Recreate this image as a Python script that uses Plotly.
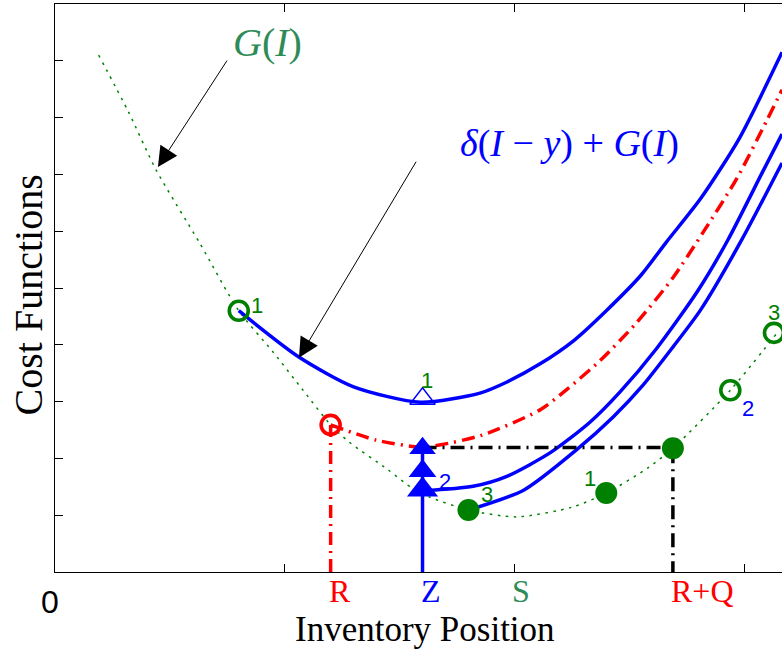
import plotly.graph_objects as go

# ---------------- data (x: inventory position, y: cost) ----------------
G_x = [0.19, 0.32, 0.44, 0.63, 0.80, 0.95, 1.08, 1.20, 1.28, 1.45, 1.56, 1.63,
       1.80, 2.01, 2.25, 2.40, 2.58, 2.69, 2.94, 3.14]
G_y = [9.10, 8.10, 7.08, 5.79, 4.60, 3.87, 3.20, 2.59, 2.29, 1.80, 1.46, 1.32,
       1.09, 0.97, 1.14, 1.39, 1.83, 2.18, 3.20, 4.19]

cost1_x = [0.80, 1.06, 1.30, 1.59, 1.85, 1.97, 2.11, 2.26, 2.40, 2.55, 2.66,
           2.81, 2.98, 3.165]
cost1_y = [4.60, 3.79, 3.26, 2.99, 3.15, 3.35, 3.66, 4.08, 4.60, 5.22, 5.80,
           6.57, 7.64, 9.15]

costR_x = [1.20, 1.40, 1.59, 1.68, 1.86, 2.11, 2.23, 2.37, 2.53, 2.69, 2.82,
           2.97, 3.10, 3.165]
costR_y = [2.59, 2.32, 2.20, 2.24, 2.41, 2.85, 3.22, 3.71, 4.38, 5.18, 5.97,
           6.94, 7.96, 8.49]

cost2_x = [1.60, 1.82, 1.97, 2.16, 2.33, 2.46, 2.62, 2.80, 2.93, 3.08, 3.165]
cost2_y = [1.43, 1.51, 1.69, 2.11, 2.64, 3.17, 3.94, 4.96, 5.85, 7.04, 7.71]

cost3_x = [1.80, 2.04, 2.27, 2.43, 2.56, 2.69, 2.81, 2.99, 3.165]
cost3_y = [1.09, 1.44, 2.15, 2.73, 3.29, 3.96, 4.61, 5.85, 7.20]

R = 1.20
Z = 1.60
S = 2.00
RQ = 2.69
G_R = 2.59          # G(R)
G_RQ = 2.19         # G(R+Q) = min of dashed curve

open_green_x = [0.80, 2.94, 3.13]
open_green_y = [4.60, 3.20, 4.21]
filled_green_x = [1.80, 2.40, 2.69]
filled_green_y = [1.09, 1.39, 2.18]
tri_x = [1.60]
tri_y = [3.05]
arrowheads_y = [2.18, 1.78, 1.45]

num_text = ['1', '1', '2', '3', '1', '2', '3']
num_x = [0.88, 1.62, 1.70, 1.88, 2.33, 3.015, 3.13]
num_y = [4.70, 3.38, 1.59, 1.37, 1.65, 2.87, 4.57]
num_col = ['green', 'green', 'blue', 'green', 'green', 'blue', 'green']

pos_labels = ['R', 'Z', 'S', 'R+Q']
pos_values = [R, Z, S, RQ]
pos_colors = ['red', 'blue', 'seagreen', 'red']

# ---------------- styling ----------------
GREEN = '#008000'
BLUE = '#0000FF'
RED = '#FF0000'
SEAGREEN = '#2E8B57'
COLMAP = {'green': GREEN, 'blue': BLUE, 'red': RED, 'seagreen': SEAGREEN}
SERIF = 'Liberation Serif'
SANS = 'Liberation Sans'

fig = go.Figure()

def line(x, y, color, width, dash='solid', spline=True):
    fig.add_trace(go.Scatter(
        x=x, y=y, mode='lines', hoverinfo='skip',
        line=dict(color=color, width=width, dash=dash,
                  shape='spline' if spline else 'linear', smoothing=0.7)))

# G(I)
line(G_x, G_y, GREEN, 1.5, dash='2.5px,5.5px')
# cost curves
line(costR_x, costR_y, RED, 3.5, dash='13px,6px,2px,6px')
line(cost1_x, cost1_y, BLUE, 3.5)
line(cost2_x, cost2_y, BLUE, 3.5)
line(cost3_x, cost3_y, BLUE, 3.5)
# guide lines
line([R, R], [0, G_R], RED, 3.5, dash='13px,6px,2px,6px', spline=False)
line([Z, RQ, RQ], [G_RQ, G_RQ, 0], 'black', 3.5, dash='14px,6px,2px,6px', spline=False)
line([Z, Z], [0, arrowheads_y[0]], BLUE, 3.5, spline=False)

# markers
fig.add_trace(go.Scatter(x=[Z] * 3, y=arrowheads_y, mode='markers', hoverinfo='skip',
                         marker=dict(symbol='triangle-up', size=[23, 24, 27], color=BLUE,
                                     opacity=1, line=dict(width=0))))
fig.add_trace(go.Scatter(x=tri_x, y=tri_y, mode='markers', hoverinfo='skip',
                         marker=dict(symbol='triangle-up-open', size=22, color=BLUE,
                                     opacity=1, line=dict(width=1.4, color=BLUE))))
fig.add_trace(go.Scatter(x=open_green_x, y=open_green_y, mode='markers', hoverinfo='skip',
                         marker=dict(symbol='circle-open', size=19, color=GREEN,
                                     opacity=1, line=dict(width=3.6, color=GREEN))))
fig.add_trace(go.Scatter(x=[R], y=[G_R], mode='markers', hoverinfo='skip',
                         marker=dict(symbol='circle-open', size=19, color=RED,
                                     opacity=1, line=dict(width=3.6, color=RED))))
fig.add_trace(go.Scatter(x=filled_green_x, y=filled_green_y, mode='markers', hoverinfo='skip',
                         marker=dict(symbol='circle', size=22, color=GREEN,
                                     opacity=1, line=dict(width=0))))

# numeric labels
for t, x, y, c in zip(num_text, num_x, num_y, num_col):
    fig.add_annotation(x=x, y=y, xref='x', yref='y', text=t, showarrow=False,
                       xanchor='center', yanchor='middle',
                       font=dict(family=SANS, size=22, color=COLMAP[c]))

# position labels under the axis
for t, x, c in zip(pos_labels, pos_values, pos_colors):
    fig.add_annotation(x=x, y=-0.0335, xref='x', yref='paper', text=t, showarrow=False,
                       xanchor='left', yanchor='middle', xshift=-3, borderpad=0,
                       font=dict(family=SERIF, size=32, color=COLMAP[c]))

fig.add_annotation(x=0, y=-0.052, xref='x', yref='paper', text='0', showarrow=False,
                   xanchor='center', yanchor='middle', xshift=-5,
                   font=dict(family=SANS, size=32, color='black'))

# axis titles
fig.add_annotation(x=(424.5 - 55) / 727, y=-0.1012, xref='paper', yref='paper',
                   text='Inventory Position', showarrow=False, xanchor='center',
                   yanchor='middle', borderpad=0,
                   font=dict(family=SERIF, size=35, color='black'))
fig.add_annotation(x=-27 / 727, y=0.487, xref='paper', yref='paper',
                   text='Cost Functions', showarrow=False, textangle=-90,
                   xanchor='center', yanchor='middle',
                   font=dict(family=SERIF, size=40, color='black'))

# curve labels with arrows
fig.add_annotation(x=0.925, y=9.33, xref='x', yref='y', text='<i>G</i>(<i>I</i>)',
                   showarrow=False, font=dict(family=SERIF, size=40, color=SEAGREEN))
fig.add_annotation(x=2.24, y=7.55, xref='x', yref='y',
                   text='<i>δ</i>(<i>I</i> − <i>y</i>) + <i>G</i>(<i>I</i>)',
                   showarrow=False, font=dict(family=SERIF, size=38, color=BLUE))
fig.add_annotation(x=0.448, y=7.13, ax=0.753, ay=9.03, xref='x', yref='y',
                   axref='x', ayref='y', text='', showarrow=True, arrowhead=2,
                   arrowsize=4, arrowwidth=1, arrowcolor='black', standoff=0)
fig.add_annotation(x=1.062, y=3.77, ax=1.576, ay=7.25, xref='x', yref='y',
                   axref='x', ayref='y', text='', showarrow=True, arrowhead=2,
                   arrowsize=4, arrowwidth=1, arrowcolor='black', standoff=0)

fig.update_layout(
    width=782, height=650,
    margin=dict(l=55, r=0, t=4, b=78),
    paper_bgcolor='white', plot_bgcolor='white',
    showlegend=False,
    xaxis=dict(range=[0, 3.165], showgrid=False, zeroline=False, showline=True,
               linecolor='black', linewidth=1, mirror='ticks', ticks='inside',
               ticklen=8, tickcolor='black', tickvals=[1, 2, 3], showticklabels=False),
    yaxis=dict(range=[0, 10], showgrid=False, zeroline=False, showline=True,
               linecolor='black', linewidth=1, mirror=False, ticks='inside',
               ticklen=8, tickcolor='black', tickvals=list(range(1, 10)),
               showticklabels=False),
)

fig.write_html('out.html')
